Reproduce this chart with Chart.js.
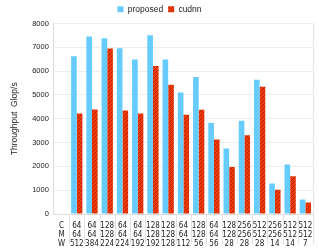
<!DOCTYPE html>
<html>
<head>
<meta charset="utf-8">
<script src="https://cdn.jsdelivr.net/npm/chart.js@4/dist/chart.umd.min.js"></script>
<style>
  html, body { margin: 0; padding: 0; background: #fff; }
  #wrap { width: 319px; height: 251px; }
</style>
</head>
<body>
<div id="wrap"><canvas id="chart" width="319" height="251"></canvas></div>
<script>
const labels = [
  ["C", "M", "W"],
  ["64", "64", "512"], ["64", "64", "384"], ["128", "128", "224"], ["64", "64", "224"],
  ["64", "64", "192"], ["128", "128", "192"], ["128", "128", "128"], ["64", "64", "112"],
  ["128", "128", "56"], ["64", "64", "56"], ["128", "128", "28"], ["256", "256", "28"],
  ["512", "512", "28"], ["256", "256", "14"], ["512", "512", "14"], ["512", "512", "7"]
];
const proposed = [null, 6620, 7455, 7385, 6960, 6485, 7510, 6485, 5105, 5750, 3825, 2755, 3920, 5640, 1280, 2080, 605];
const cudnn = [null, 4220, 4390, 6950, 4345, 4220, 6215, 5430, 4165, 4375, 3125, 1970, 3305, 5345, 1015, 1590, 480];
const yTicks = [0, 1000, 2000, 3000, 4000, 5000, 6000, 7000, 8000];

// diagonal hatch for the cudnn series
function hatch() {
  const c = document.createElement("canvas");
  c.width = 4; c.height = 4;
  const g = c.getContext("2d");
  g.fillStyle = "#ee3a08";
  g.fillRect(0, 0, 4, 4);
  g.strokeStyle = "#b82200";
  g.lineWidth = 1;
  g.beginPath();
  g.moveTo(0, 4); g.lineTo(4, 0);
  g.moveTo(-1, 1); g.lineTo(1, -1);
  g.moveTo(3, 5); g.lineTo(5, 3);
  g.stroke();
  return g.createPattern(c, "repeat");
}

// right edge of the plot + separators between the label columns
const frame = {
  id: "frame",
  afterDraw(chart) {
    const a = chart.chartArea, ctx = chart.ctx, xs = chart.scales.x;
    ctx.save();
    ctx.strokeStyle = "#e2e2e2";
    ctx.lineWidth = 1;
    ctx.beginPath();
    ctx.moveTo(Math.round(a.right) + 0.5, a.top);
    ctx.lineTo(Math.round(a.right) + 0.5, a.bottom);
    const half = (xs.getPixelForValue(1) - xs.getPixelForValue(0)) / 2;
    for (let i = 0; i < labels.length; i++) {
      const px = Math.round(xs.getPixelForValue(i) + half) + 0.5;
      ctx.moveTo(px, a.bottom);
      ctx.lineTo(px, a.bottom + 30);
    }
    ctx.stroke();
    ctx.restore();
  }
};

const sans = "Liberation Sans, Arial, sans-serif";

new Chart(document.getElementById("chart"), {
  type: "bar",
  data: {
    labels: labels,
    datasets: [
      { label: "proposed", data: proposed, backgroundColor: "#66ccff", categoryPercentage: 0.74, barPercentage: 1 },
      { label: "cudnn", data: cudnn, backgroundColor: hatch(), categoryPercentage: 0.74, barPercentage: 1 }
    ]
  },
  options: {
    responsive: false,
    animation: false,
    layout: { padding: { left: 6, right: 6, top: 0, bottom: 0 } },
    plugins: {
      legend: {
        labels: { font: { family: sans, size: 8.5 }, color: "#222", boxWidth: 6, boxHeight: 6, padding: 5 }
      },
      tooltip: { enabled: false }
    },
    scales: {
      x: {
        afterFit: s => { s.height = 37; },
        grid: { display: false },
        border: { color: "#dddddd" },
        ticks: {
          font: { family: "Liberation Sans Narrow, DejaVu Sans Condensed, sans-serif", size: 8, lineHeight: 1.1 },
          color: "#222", maxRotation: 0, autoSkip: false, padding: 0
        }
      },
      y: {
        min: 0,
        max: 8000,
        afterBuildTicks: s => { s.ticks = yTicks.map(v => ({ value: v })); },
        grid: { color: "#eeeeee", drawTicks: false },
        border: { color: "#dddddd" },
        ticks: { font: { family: sans, size: 7.5 }, color: "#222", padding: 5, callback: v => String(v) },
        title: { display: true, text: "Throughput  Glop/s", font: { family: sans, size: 8.5 }, color: "#222", padding: { bottom: 7 } }
      }
    }
  },
  plugins: [frame]
});
</script>
</body>
</html>
